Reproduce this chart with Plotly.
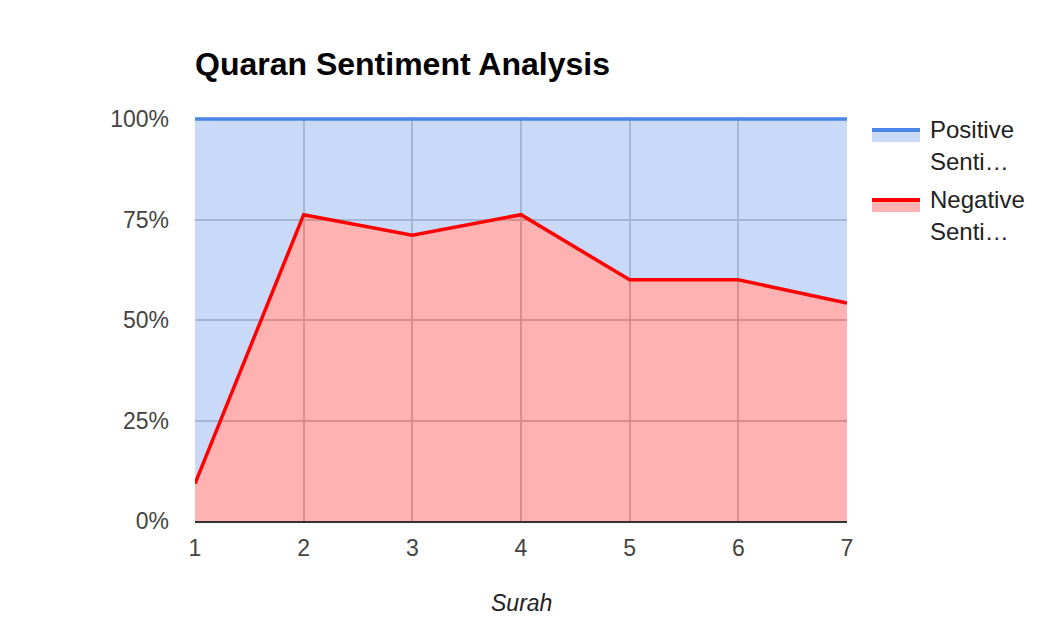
import plotly.graph_objects as go

surah = [1, 2, 3, 4, 5, 6, 7]
negative = [9.3, 76.2, 71.1, 76.2, 60.0, 60.0, 54.2]
positive = [round(100 - v, 1) for v in negative]
series_names = ["Positive Sentiment", "Negative Sentiment"]
legend_lines = [["Positive", "Senti…"], ["Negative", "Senti…"]]
y_ticks = [0, 25, 50, 75, 100]
y_tick_text = ["0%", "25%", "50%", "75%", "100%"]

OFF = 8  # page body margin
W, H = 1044 - 2 * OFF, 638 - 2 * OFF
# plot area in page pixels (y=100 at T, y=0 at B)
L, R, T, B = 195 - OFF, 847 - OFF, 119 - OFF, 521 - OFF
YMAX = 100.5
pw = R - L
ph100 = B - T
ph = ph100 * YMAX / 100.0
top_px = B - ph

BLUE = "#4a86e8"
RED = "#ff0000"
BLUE_FILL = "rgba(74,134,232,0.3)"
RED_FILL = "rgba(255,0,0,0.3)"
FONT = "Liberation Sans, Arial, sans-serif"


def px_x(x):
    return (x - OFF - L) / pw


def px_y(y):
    return (B - (y - OFF)) / ph


fig = go.Figure()
fig.add_trace(go.Scatter(
    x=surah, y=negative, name=series_names[1], mode="lines",
    stackgroup="s", line=dict(color=RED, width=3.5), fillcolor=RED_FILL,
))
fig.add_trace(go.Scatter(
    x=surah, y=positive, name=series_names[0], mode="lines",
    stackgroup="s", line=dict(color=BLUE, width=3.5), fillcolor=BLUE_FILL,
))

shapes = []
annotations = []
legend_cfg = [(128, BLUE, BLUE_FILL), (198, RED, RED_FILL)]
for i, (ly, lc, fc) in enumerate(legend_cfg):
    shapes.append(dict(type="rect", xref="paper", yref="paper",
                       x0=px_x(872), x1=px_x(920), y0=px_y(ly + 4), y1=px_y(ly),
                       fillcolor=lc, line=dict(width=0)))
    shapes.append(dict(type="rect", xref="paper", yref="paper",
                       x0=px_x(872), x1=px_x(920), y0=px_y(ly + 14), y1=px_y(ly + 4),
                       fillcolor=fc, line=dict(width=0)))
    for j, txt in enumerate(legend_lines[i]):
        annotations.append(dict(
            text=txt, xref="paper", yref="paper",
            x=px_x(928), y=px_y(ly + 1 + 32 * j),
            xanchor="left", yanchor="middle", showarrow=False,
            font=dict(family=FONT, size=24, color="#222222"),
        ))

annotations.append(dict(
    text="Surah", xref="paper", yref="paper",
    x=0.5, y=px_y(603), xanchor="center", yanchor="middle", showarrow=False,
    font=dict(family=FONT, size=23, color="#222222", style="italic"),
))

fig.update_layout(
    width=W, height=H,
    margin=dict(l=L, r=W - R, t=top_px, b=H - B, pad=0),
    paper_bgcolor="white", plot_bgcolor="white",
    showlegend=False,
    title=dict(text="<b>Quaran Sentiment Analysis</b>", xref="paper", x=0,
               xanchor="left", yref="container", y=1 - (64 - OFF) / H, yanchor="middle",
               font=dict(family=FONT, size=32, color="#000000")),
    xaxis=dict(range=[1, 7], tickvals=surah, showgrid=True, gridcolor="#cccccc",
               gridwidth=1.5, zeroline=False, showline=True, linecolor="#333333",
               linewidth=2, ticks="", ticklabelstandoff=5,
               tickfont=dict(family=FONT, size=23, color="#444444")),
    yaxis=dict(range=[0, YMAX], tickvals=y_ticks, ticktext=y_tick_text, showgrid=True,
               gridcolor="#cccccc", gridwidth=1.5, zeroline=False, showline=False,
               ticks="", ticklabelstandoff=25,
               tickfont=dict(family=FONT, size=23, color="#444444")),
    shapes=shapes,
    annotations=annotations,
)

fig.write_html("out.html")
